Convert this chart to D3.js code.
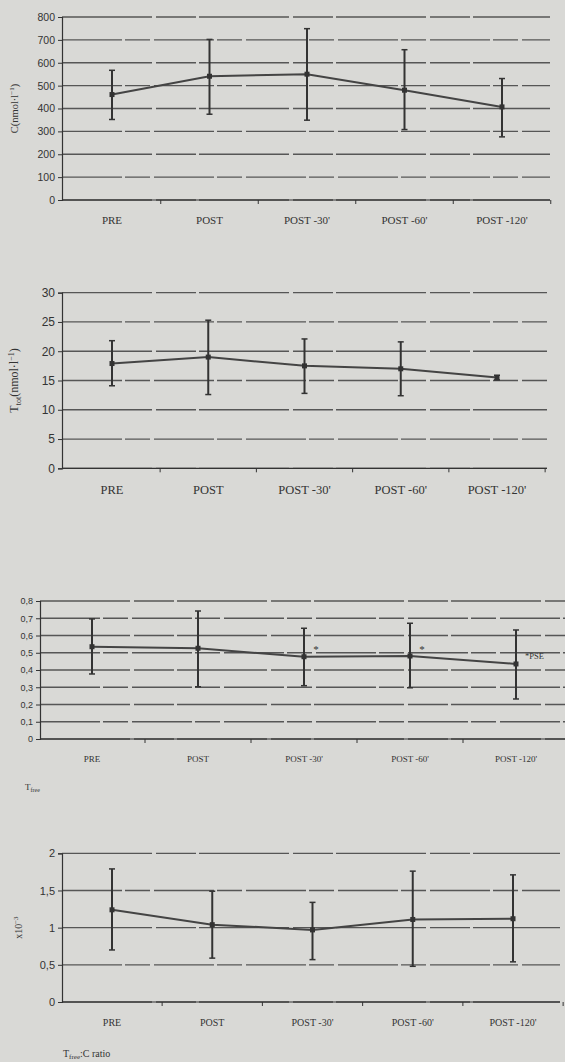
<!DOCTYPE html>
<html>
<head>
<meta charset="utf-8">
<script src="https://cdn.jsdelivr.net/npm/d3@7"></script>
<style>
  body { margin: 0; background: #d9d9d6; }
  svg { display: block; font-family: "Liberation Serif", "DejaVu Serif", serif; }
</style>
</head>
<body>
<svg id="chart" width="565" height="1062"></svg>
<script>
// categories (time points)
const categories = ["PRE", "POST", "POST -30'", "POST -60'", "POST -120'"]

// cortisol C (nmol/l)
const cortMean = [461, 541, 550, 480, 407]
const cortHigh = [567, 702, 749, 657, 531]
const cortLow  = [352, 375, 349, 308, 276]
const cortTicks = [0, 100, 200, 300, 400, 500, 600, 700, 800]

// total testosterone (nmol/l)
const ttotMean = [17.9, 19.0, 17.5, 17.0, 15.5]
const ttotHigh = [21.8, 25.3, 22.1, 21.6, 15.9]
const ttotLow  = [14.1, 12.6, 12.8, 12.4, 15.1]
const ttotTicks = [0, 5, 10, 15, 20, 25, 30]

// free testosterone
const tfreeMean = [0.535, 0.526, 0.477, 0.481, 0.435]
const tfreeHigh = [0.696, 0.742, 0.642, 0.671, 0.632]
const tfreeLow  = [0.377, 0.303, 0.309, 0.297, 0.232]
const tfreeTicks = [0, 0.1, 0.2, 0.3, 0.4, 0.5, 0.6, 0.7, 0.8]
const tfreeStars = ["POST -30'", "POST -60'"]

// Tfree:C ratio (x10^-3)
const ratioMean = [1.24, 1.04, 0.97, 1.11, 1.12]
const ratioHigh = [1.79, 1.49, 1.34, 1.76, 1.71]
const ratioLow  = [0.70, 0.59, 0.57, 0.48, 0.54]
const ratioTicks = [0, 0.5, 1, 1.5, 2]

const svg = d3.select('#chart')
const ink = '#333'
const commaFmt = d3.formatLocale({decimal: ',', thousands: '.', grouping: [3], currency: ['', '']}).format('~g')

function drawPanel(cfg){
    const g = svg.append('g')
    const y = d3.scaleLinear().domain(cfg.domain).range([cfg.bottom, cfg.top])
    const x = d3.scalePoint().domain(categories).range([cfg.xFirst, cfg.xLast])
    const half = x.step() / 2

    // gridlines
    g.selectAll('.grid').data(cfg.ticks).enter().append('line')
        .attr('x1', cfg.left).attr('x2', cfg.right)
        .attr('y1', d => y(d)).attr('y2', d => y(d))
        .attr('stroke', '#404040').attr('stroke-width', 1.3)
        .attr('stroke-dasharray', (d, i) => i % 2 ? '60,3,25,4' : '90,4,40,3')
        .attr('opacity', 0.85)

    // y axis
    const yAxis = d3.axisLeft(y).tickValues(cfg.ticks).tickSize(4).tickFormat(cfg.fmt || commaFmt)
    const ya = g.append('g').attr('transform', `translate(${cfg.left},0)`).call(yAxis)
    ya.select('.domain').attr('stroke', ink).attr('stroke-width', 1.2)
    ya.selectAll('.tick line').attr('stroke', ink)
    ya.selectAll('text').attr('fill', ink).style('font-size', cfg.tickFont + 'px')

    // x axis line + boundary ticks
    g.append('line').attr('x1', cfg.left).attr('x2', cfg.right)
        .attr('y1', y(0)).attr('y2', y(0)).attr('stroke', ink).attr('stroke-width', 1.2)
    g.selectAll('.xt').data(categories).enter().append('line')
        .attr('x1', d => x(d) + half).attr('x2', d => x(d) + half)
        .attr('y1', y(0)).attr('y2', y(0) + 4).attr('stroke', ink)
    g.selectAll('.xl').data(categories).enter().append('text')
        .attr('x', d => x(d)).attr('y', cfg.labelY)
        .attr('text-anchor', 'middle').attr('fill', ink)
        .style('font-size', cfg.catFont + 'px')
        .text(d => d)

    const rows = categories.map((c, i) => ({c, m: cfg.mean[i], hi: cfg.high[i], lo: cfg.low[i]}))

    // mean line
    const line = d3.line().x(d => x(d.c)).y(d => y(d.m))
    g.append('path').datum(rows).attr('d', line)
        .attr('fill', 'none').attr('stroke', '#444').attr('stroke-width', 2)

    // error bars
    const eb = g.selectAll('.eb').data(rows).enter().append('g')
    eb.append('line').attr('x1', d => x(d.c)).attr('x2', d => x(d.c))
        .attr('y1', d => y(d.hi)).attr('y2', d => y(d.lo))
        .attr('stroke', '#333').attr('stroke-width', 2)
    eb.append('line').attr('x1', d => x(d.c) - 3).attr('x2', d => x(d.c) + 3)
        .attr('y1', d => y(d.hi)).attr('y2', d => y(d.hi)).attr('stroke', '#333').attr('stroke-width', 1.5)
    eb.append('line').attr('x1', d => x(d.c) - 3).attr('x2', d => x(d.c) + 3)
        .attr('y1', d => y(d.lo)).attr('y2', d => y(d.lo)).attr('stroke', '#333').attr('stroke-width', 1.5)
    eb.append('rect').attr('x', d => x(d.c) - 2.5).attr('y', d => y(d.m) - 2.5)
        .attr('width', 5).attr('height', 5).attr('fill', '#333')

    // rotated y label
    if (cfg.yLabel){
        const t = g.append('text')
            .attr('transform', `translate(${cfg.yLabelX},${(cfg.top + cfg.bottom) / 2}) rotate(-90)`)
            .attr('text-anchor', 'middle').attr('fill', ink).style('font-size', cfg.yLabelFont + 'px')
        cfg.yLabel(t)
    }
    return {g, x, y}
}

// panel 1: cortisol
drawPanel({domain: [0, 800], top: 17, bottom: 200, left: 62, right: 550, xFirst: 112, xLast: 502,
    ticks: cortTicks, fmt: d3.format('d'), mean: cortMean, high: cortHigh, low: cortLow,
    labelY: 224, tickFont: 10.5, catFont: 11, yLabelX: 18, yLabelFont: 10.5,
    yLabel: t => { t.append('tspan').text('C(nmol·l'); t.append('tspan').attr('dy', -4).style('font-size', '7px').text('−1'); t.append('tspan').attr('dy', 4).text(')') }})

// panel 2: total testosterone
drawPanel({domain: [0, 30], top: 292.7, bottom: 468.3, left: 62, right: 547, xFirst: 112, xLast: 497,
    ticks: ttotTicks, fmt: d3.format('d'), mean: ttotMean, high: ttotHigh, low: ttotLow,
    labelY: 494, tickFont: 12, catFont: 12.5, yLabelX: 18, yLabelFont: 12,
    yLabel: t => { t.append('tspan').text('T'); t.append('tspan').attr('dy', 3).style('font-size', '8px').text('tot'); t.append('tspan').attr('dy', -3).text('(nmol·l'); t.append('tspan').attr('dy', -4).style('font-size', '8px').text('−1'); t.append('tspan').attr('dy', 4).text(')') }})

// panel 3: free testosterone
const p3 = drawPanel({domain: [0, 0.8], top: 601, bottom: 739, left: 40, right: 565, xFirst: 92, xLast: 516,
    ticks: tfreeTicks, mean: tfreeMean, high: tfreeHigh, low: tfreeLow,
    labelY: 762, tickFont: 9, catFont: 9, yLabel: null})
p3.g.selectAll('.star').data(tfreeStars).enter().append('text')
    .attr('x', d => p3.x(d) + 12).attr('y', p3.y(0.5)).attr('fill', ink)
    .attr('text-anchor', 'middle').style('font-size', '11px').text('*')
p3.g.append('text').attr('x', p3.x("POST -120'") + 9).attr('y', p3.y(0.465))
    .attr('fill', ink).style('font-size', '8.5px').text('*PSE')
const tf = p3.g.append('text').attr('x', 25).attr('y', 790).attr('fill', ink).style('font-size', '9px')
tf.append('tspan').text('T')
tf.append('tspan').attr('dy', 2).style('font-size', '6px').text('free')

// panel 4: Tfree:C ratio
drawPanel({domain: [0, 2], top: 853.3, bottom: 1002, left: 62, right: 560, xFirst: 112, xLast: 513,
    ticks: ratioTicks, mean: ratioMean, high: ratioHigh, low: ratioLow,
    labelY: 1026, tickFont: 11, catFont: 10, yLabelX: 22, yLabelFont: 10,
    yLabel: t => { t.append('tspan').text('x10'); t.append('tspan').attr('dy', -4).style('font-size', '7px').text('−3') }})
const rl = svg.append('text').attr('x', 63).attr('y', 1057).attr('fill', ink).style('font-size', '10px')
rl.append('tspan').text('T')
rl.append('tspan').attr('dy', 2).style('font-size', '7px').text('free')
rl.append('tspan').attr('dy', -2).text(':C ratio')
</script>
</body>
</html>
